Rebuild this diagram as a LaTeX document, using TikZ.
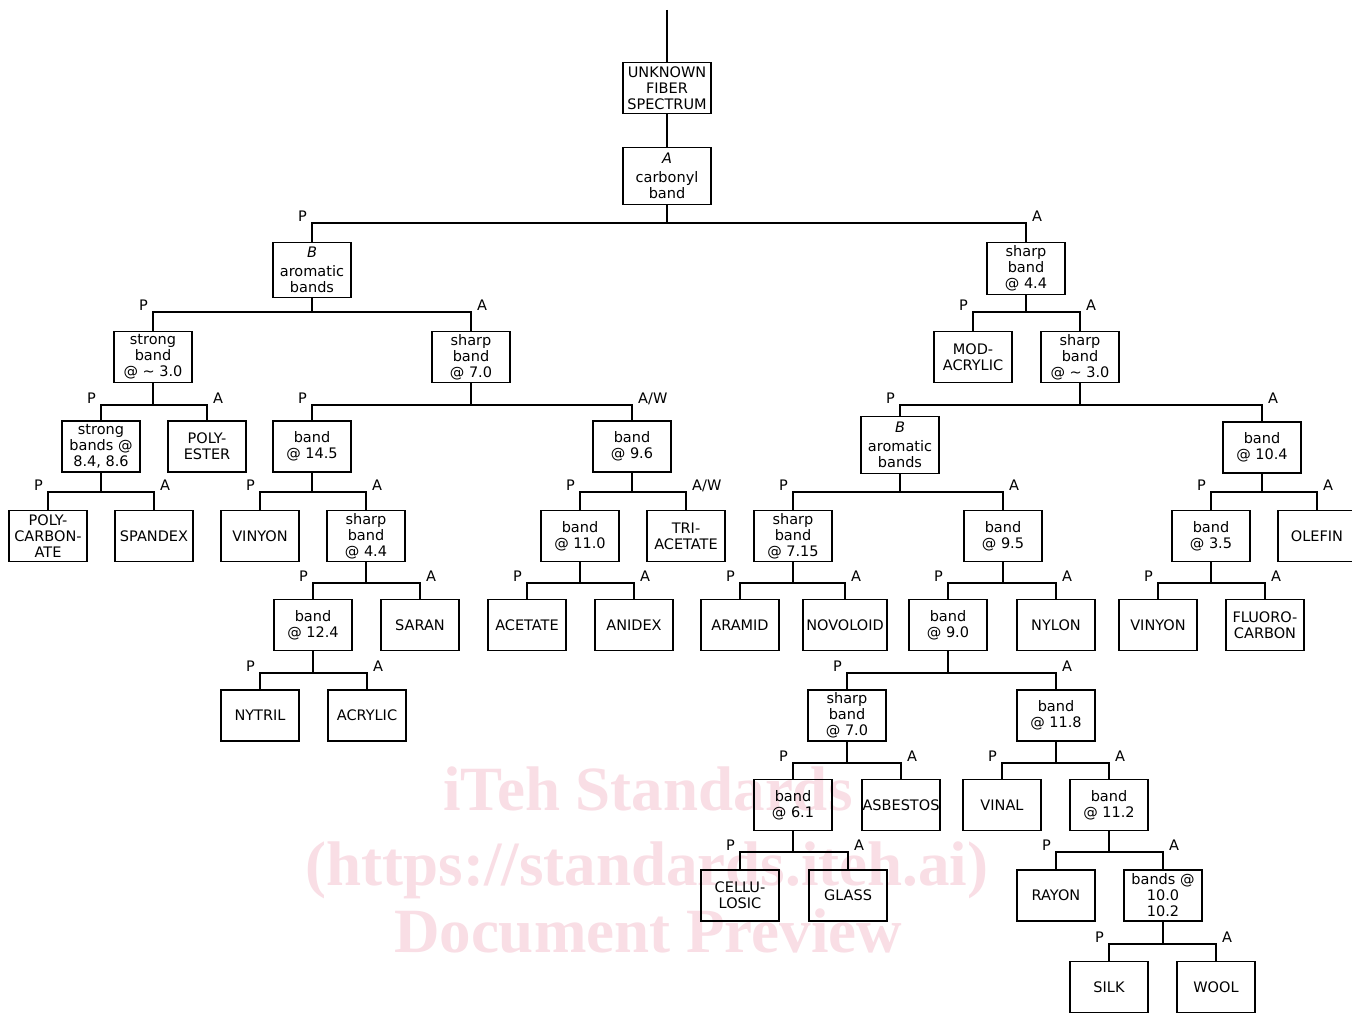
\documentclass[tikz,border=0pt]{standalone}
\usepackage{fontspec}
\setmainfont{DejaVu Sans}
\newfontfamily\wmfont{Liberation Serif}
\definecolor{wmc}{RGB}{249,222,229}
\newcommand\fork[5]{%
  \coordinate (bb) at (0,#4);
  \coordinate (bl) at (#2.north |- bb);
  \coordinate (br) at (#3.north |- bb);
  \draw[ln] (#1.south) -- (#1.south |- bb);
  \draw[ln] (#2.north) -- (bl) -- (br) -- (#3.north);
  \node[lab,anchor=base east,xshift=-5pt,yshift=2pt] at (bl) {P};
  \node[lab,anchor=base west,xshift=6pt,yshift=2pt] at (br) {#5};
}
\begin{document}
\begin{tikzpicture}[x=1pt,y=-1pt,
  ln/.style={line width=1.8pt,line join=miter},
  bx/.style={draw,line width=1.8pt,minimum width=78pt,minimum height=51pt,inner sep=0pt,
    align=center,font=\fontsize{14.5}{16}\selectfont},
  lab/.style={inner sep=0pt,font=\fontsize{14.5}{16}\selectfont},
  wm/.style={text=wmc,inner sep=0pt,anchor=base,font=\wmfont\bfseries\fontsize{63}{70}\selectfont}]
\useasboundingbox (0,0) rectangle (1352,1014);
\fill[white] (0,0) rectangle (1352,1014);
% watermark
\node[wm] (w1) at (648,810) {iTeh Standards};
\node[wm] (w2) at (647,885) {(https://standards.iteh.ai)};
\node[wm] (w3) at (648,952) {Document Preview};
% nodes
\node[bx,minimum width=88pt] (n0) at (667,88) {UNKNOWN\\FIBER\\SPECTRUM};
\node[bx,minimum width=88pt,minimum height=57pt] (n1) at (667,176) {\textit{A}\\[3pt]carbonyl\\band};
\node[bx,minimum height=55pt] (aro1) at (312,270) {\textit{B}\\[3pt]aromatic\\bands};
\node[bx,minimum height=52pt] (sb44) at (1026,268.5) {sharp\\band\\@ 4.4};
% level 2
\node[bx] (sb30) at (153,357) {strong\\band\\@ \textasciitilde\ 3.0};
\node[bx] (sb70) at (471,357) {sharp\\band\\@ 7.0};
\node[bx] (mod) at (973,357) {MOD-\\ACRYLIC};
\node[bx] (sb30b) at (1080,357) {sharp\\band\\@ \textasciitilde\ 3.0};
% level 3
\node[bx] (sbs86) at (101,446.5) {strong\\bands @\\8.4, 8.6};
\node[bx] (poly) at (207,446.5) {POLY-\\ESTER};
\node[bx] (b145) at (312,446.5) {band\\@ 14.5};
\node[bx] (b96) at (632,446.5) {band\\@ 9.6};
\node[bx,minimum height=57pt] (aro2) at (900,445) {\textit{B}\\[3pt]aromatic\\bands};
\node[bx] (b104) at (1262,447.5) {band\\@ 10.4};
% level 4
\node[bx] (pc) at (48,536) {POLY-\\CARBON-\\ATE};
\node[bx] (spx) at (154,536) {SPANDEX};
\node[bx] (vin1) at (260,536) {VINYON};
\node[bx] (sb44b) at (366,536) {sharp\\band\\@ 4.4};
\node[bx] (b110) at (580,536) {band\\@ 11.0};
\node[bx] (tri) at (686,536) {TRI-\\ACETATE};
\node[bx] (sb715) at (793,536) {sharp\\band\\@ 7.15};
\node[bx] (b95) at (1003,536) {band\\@ 9.5};
\node[bx] (b35) at (1211,536) {band\\@ 3.5};
\node[bx] (ole) at (1317,536) {OLEFIN};
% level 5
\node[bx] (b124) at (313,625) {band\\@ 12.4};
\node[bx] (sar) at (420,625) {SARAN};
\node[bx] (ace) at (527,625) {ACETATE};
\node[bx] (ani) at (634,625) {ANIDEX};
\node[bx] (ara) at (740,625) {ARAMID};
\node[bx,minimum width=84pt] (nov) at (845,625) {NOVOLOID};
\node[bx] (b90) at (948,625) {band\\@ 9.0};
\node[bx] (nyl) at (1056,625) {NYLON};
\node[bx] (vin2) at (1158,625) {VINYON};
\node[bx] (flu) at (1265,625) {FLUORO-\\CARBON};
% level 6
\node[bx] (nyt) at (260,715.5) {NYTRIL};
\node[bx] (acr) at (367,715.5) {ACRYLIC};
\node[bx] (sb70b) at (847,715.5) {sharp\\band\\@ 7.0};
\node[bx] (b118) at (1056,715.5) {band\\@ 11.8};
% level 7
\node[bx] (b61) at (793,805) {band\\@ 6.1};
\node[bx] (asb) at (901,805) {ASBESTOS};
\node[bx] (vnl) at (1002,805) {VINAL};
\node[bx] (b112) at (1109,805) {band\\@ 11.2};
% level 8
\node[bx] (cel) at (740,895.5) {CELLU-\\LOSIC};
\node[bx] (gls) at (848,895.5) {GLASS};
\node[bx] (ray) at (1056,895.5) {RAYON};
\node[bx] (b102) at (1163,895.5) {bands @\\10.0\\10.2};
% level 9
\node[bx] (silk) at (1109,987) {SILK};
\node[bx] (wool) at (1216,987) {WOOL};
% connectors
\coordinate (top) at (667,10);
\draw[ln] (top) -- (n0.north);
\draw[ln] (n0.south) -- (n1.north);
\fork{n1}{aro1}{sb44}{223}{A}
\fork{aro1}{sb30}{sb70}{312}{A}
\fork{sb44}{mod}{sb30b}{312}{A}
\fork{sb30}{sbs86}{poly}{405}{A}
\fork{sb70}{b145}{b96}{405}{A/W}
\fork{sb30b}{aro2}{b104}{405}{A}
\fork{sbs86}{pc}{spx}{492}{A}
\fork{b145}{vin1}{sb44b}{492}{A}
\fork{b96}{b110}{tri}{492}{A/W}
\fork{aro2}{sb715}{b95}{492}{A}
\fork{b104}{b35}{ole}{492}{A}
\fork{sb44b}{b124}{sar}{583}{A}
\fork{b110}{ace}{ani}{583}{A}
\fork{sb715}{ara}{nov}{583}{A}
\fork{b95}{b90}{nyl}{583}{A}
\fork{b35}{vin2}{flu}{583}{A}
\fork{b124}{nyt}{acr}{673}{A}
\fork{b90}{sb70b}{b118}{673}{A}
\fork{sb70b}{b61}{asb}{763}{A}
\fork{b118}{vnl}{b112}{763}{A}
\fork{b61}{cel}{gls}{852}{A}
\fork{b112}{ray}{b102}{852}{A}
\fork{b102}{silk}{wool}{944}{A}
\end{tikzpicture}
\end{document}
